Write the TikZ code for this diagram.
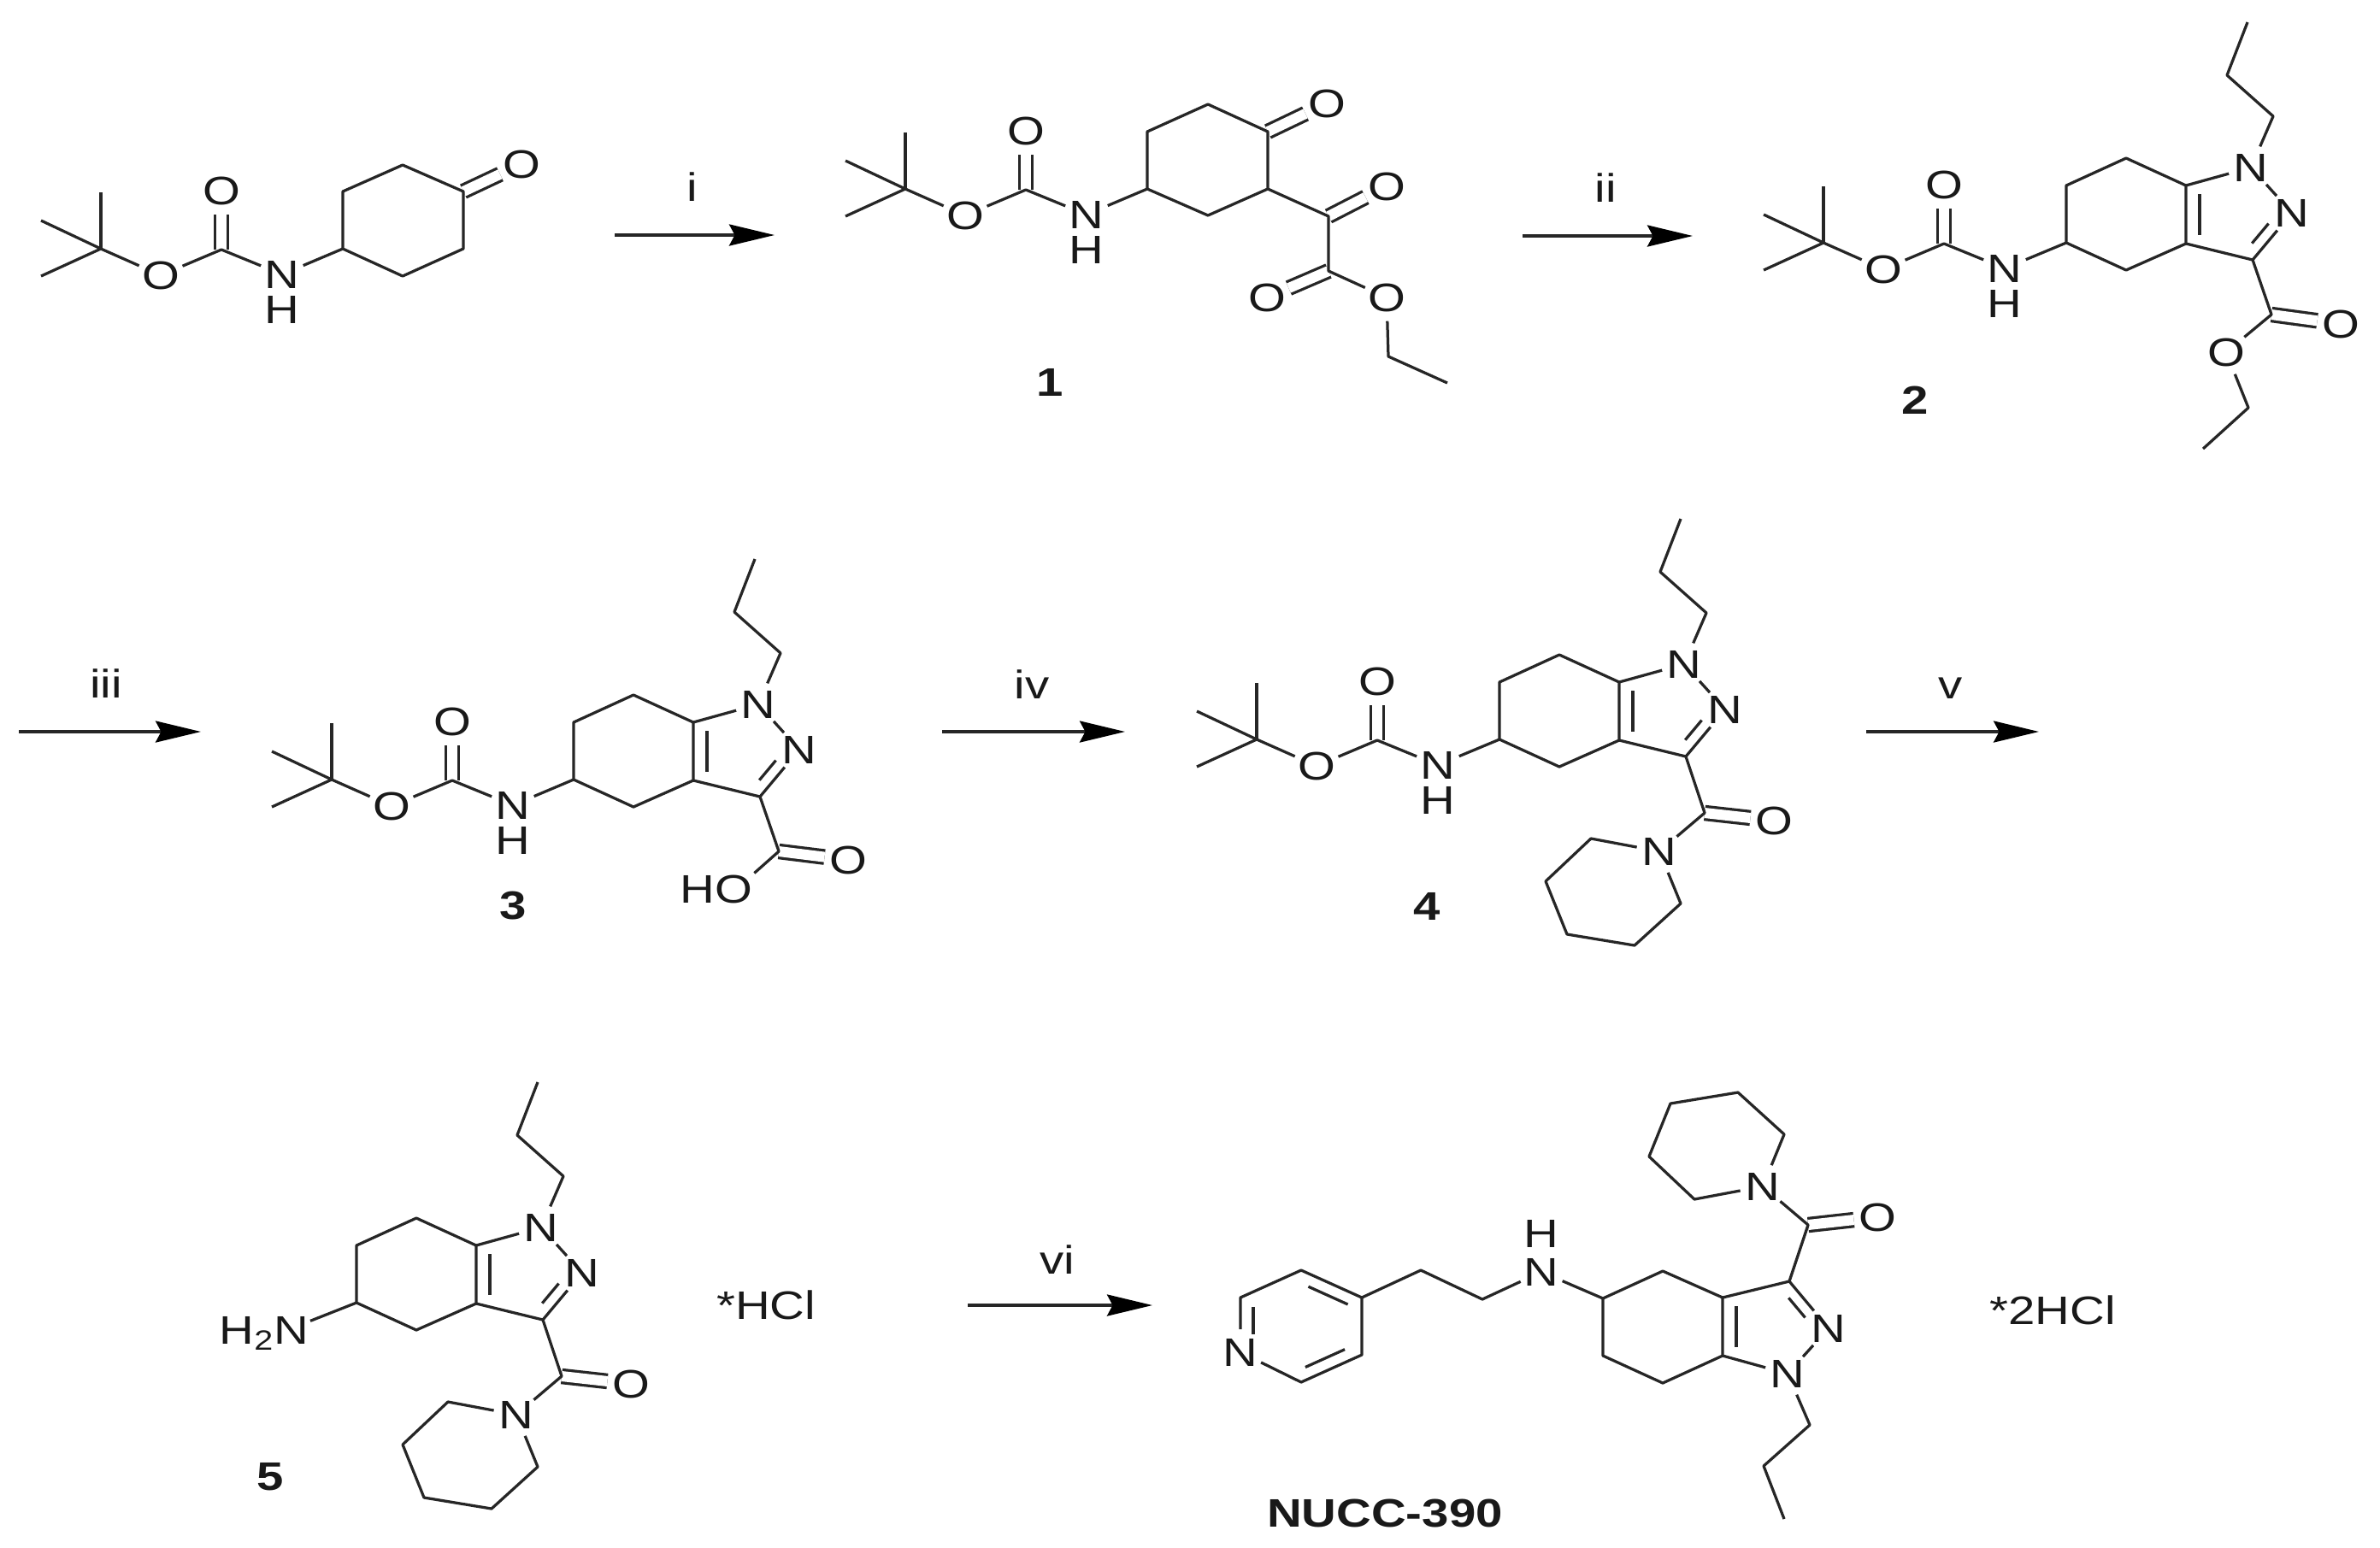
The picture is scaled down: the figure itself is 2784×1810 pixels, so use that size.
\documentclass[tikz,border=0pt]{standalone}
\usepackage{fontspec}
\setmainfont{Liberation Sans}[FakeStretch=1.21]
\usetikzlibrary{arrows.meta,calc}
\tikzset{
	bond/.style={line width=0.065cm,black!85,line join=round},
	dblbond/.style={bond,double,double distance=0.24cm},
	atom/.style={circle,inner sep=0pt,minimum size=1.06cm,text=black!90,font=\fontsize{26.5}{26.5}\selectfont},
	txt/.style={inner sep=1pt,text=black!90,font=\fontsize{26.5}{26.5}\selectfont},
	cmpd/.style={inner sep=1pt,text=black!90,font=\fontsize{26.5}{26.5}\selectfont\bfseries},
	rxn/.style={line width=0.07cm,black!85,-{Stealth[length=1.06cm,width=.5cm,inset=.13cm,black]}}
}
\def\innerbond(#1)(#2)(#3:#4:#5){\draw[bond] ($(#1)!#3!(#2)!{#5}!90:(#2)$) -- ($(#1)!#4!(#2)!{#5}!90:(#2)$);}
\def\bocamine(#1)(#2,#3){
	\begin{scope}[shift={(#2,#3)}]
		\coordinate (#1-tb) at (0,0);
		\coordinate (#1-m1) at (0,-66);
		\coordinate (#1-m2) at (-70,-33);
		\coordinate (#1-m3) at (-70,32);
		\coordinate (#1-co) at (141,1);
		\node[atom] (#1-oe) at (70,31) {O};
		\node[atom] (#1-oc) at (141,-68) {O};
		\node[atom] (#1-n) at (212,30) {N};
		\node[atom] (#1-h) at (212,71) {H};
	\end{scope}
	\draw[dblbond] (#1-co) -- (#1-oc);
	\draw[bond] (#1-m1) -- (#1-tb);
	\draw[bond] (#1-m2) -- (#1-tb) -- (#1-m3);
	\draw[bond] (#1-tb) -- (#1-oe) -- (#1-co) -- (#1-n);
}
\def\indazole(#1)(#2,#3)(#4){
	\begin{scope}[shift={(#2,#3)},yscale=#4]
		\coordinate (#1-c5) at (0,0);
		\coordinate (#1-c4) at (70,32);
		\coordinate (#1-c3a) at (140,1);
		\coordinate (#1-c7a) at (140,-67);
		\coordinate (#1-c7) at (70,-99);
		\coordinate (#1-c6) at (0,-67);
		\coordinate (#1-c3) at (218,20);
		\node[atom] (#1-n1) at (216,-88) {N};
		\node[atom] (#1-n2) at (264,-35) {N};
		\coordinate (#1-p1) at (242,-148);
		\coordinate (#1-p2) at (188,-196);
		\coordinate (#1-p3) at (212,-258);
	\end{scope}
	\draw[bond] (#1-c5) -- (#1-c4) -- (#1-c3a) -- (#1-c7a) -- (#1-c7) -- (#1-c6) -- cycle;
	\draw[bond] (#1-c7a) -- (#1-n1) -- (#1-n2) -- (#1-c3) -- (#1-c3a);
	\draw[bond] (#1-n1) -- (#1-p1) -- (#1-p2) -- (#1-p3);
	\innerbond(#1-c7a)(#1-c3a)(.15:.85:#4*0.32cm)
	\innerbond(#1-c3)(#1-n2)(.2:.62:#4*0.26cm)
}
\def\amide(#1)(#2,#3)(#4){
	\begin{scope}[shift={(#2,#3)},yscale=#4]
		\coordinate (#1-cam) at (22,66);
		\node[atom] (#1-oam) at (103,75) {O};
		\node[atom] (#1-nam) at (-31,111) {N};
		\coordinate (#1-r1) at (-111,96);
		\coordinate (#1-r2) at (-164,146);
		\coordinate (#1-r3) at (-139,208);
		\coordinate (#1-r4) at (-60,221);
		\coordinate (#1-r5) at (-6,172);
	\end{scope}
	\draw[dblbond] (#1-cam) -- (#1-oam);
	\draw[bond] (#1-c3) -- (#1-cam) -- (#1-nam);
	\draw[bond] (#1-nam) -- (#1-r1) -- (#1-r2) -- (#1-r3) -- (#1-r4) -- (#1-r5) -- (#1-nam);
}

\begin{document}
\begin{tikzpicture}[x=0.02cm,y=-0.02cm]
	%%%%% START %%%%%
	\useasboundingbox (0,0) rectangle (2784,1810);

	% starting ketone
	\bocamine(a)(118,291)
	\coordinate (a-r1) at (401,291);
	\coordinate (a-r2) at (471,323);
	\coordinate (a-r3) at (542,291);
	\coordinate (a-r4) at (542,224);
	\coordinate (a-r5) at (471,193);
	\coordinate (a-r6) at (401,224);
	\node[atom] (a-ok) at (610,192) {O};
	\draw[dblbond] (a-r4) -- (a-ok);
	\draw[bond] (a-n) -- (a-r1);
	\draw[bond] (a-r1) -- (a-r2) -- (a-r3) -- (a-r4) -- (a-r5) -- (a-r6) -- cycle;

	% arrows
	\coordinate (s1) at (719,275);
	\coordinate (e1) at (906,275);
	\coordinate (s2) at (1781,276);
	\coordinate (e2) at (1980,276);
	\coordinate (s3) at (22,856);
	\coordinate (e3) at (235,856);
	\coordinate (s4) at (1102,856);
	\coordinate (e4) at (1316,856);
	\coordinate (s5) at (2183,856);
	\coordinate (e5) at (2385,856);
	\coordinate (s6) at (1132,1527);
	\coordinate (e6) at (1348,1527);
	\foreach \i in {1,...,6}
		\draw[rxn] (s\i) -- (e\i);
	\node[txt] (step1) at (810,219) {i};
	\node[txt] (step2) at (1878,220) {ii};
	\node[txt] (step3) at (124,800) {iii};
	\node[txt] (step4) at (1207,801) {iv};
	\node[txt] (step5) at (2282,805) {v};
	\node[txt] (step6) at (1237,1474) {vi};

	% compound 1
	\bocamine(b)(1059,221)
	\coordinate (b-r1) at (1342,221);
	\coordinate (b-r2) at (1413,252);
	\coordinate (b-r3) at (1483,221);
	\coordinate (b-r4) at (1483,154);
	\coordinate (b-r5) at (1413,122);
	\coordinate (b-r6) at (1342,154);
	\coordinate (b-cx) at (1554,253);
	\coordinate (b-ce) at (1554,317);
	\coordinate (b-et1) at (1624,417);
	\coordinate (b-et2) at (1693,448);
	\node[atom] (b-ok) at (1552,121) {O};
	\node[atom] (b-ox) at (1622,218) {O};
	\node[atom] (b-oc) at (1482,348) {O};
	\node[atom] (b-oe2) at (1622,348) {O};
	\draw[dblbond] (b-r4) -- (b-ok);
	\draw[dblbond] (b-cx) -- (b-ox);
	\draw[dblbond] (b-ce) -- (b-oc);
	\draw[bond] (b-n) -- (b-r1);
	\draw[bond] (b-r1) -- (b-r2) -- (b-r3) -- (b-r4) -- (b-r5) -- (b-r6) -- cycle;
	\draw[bond] (b-r3) -- (b-cx) -- (b-ce) -- (b-oe2) -- (b-et1) -- (b-et2);
	\node[cmpd] (lab1) at (1228,447) {1};

	% compound 2
	\bocamine(c)(2133,284)
	\indazole(c)(2417,284)(1)
	\coordinate (c-cx) at (2657,368);
	\coordinate (c-et1) at (2630,477);
	\coordinate (c-et2) at (2577,525);
	\node[atom] (c-ox) at (2738,379) {O};
	\node[atom] (c-oe2) at (2604,412) {O};
	\draw[dblbond] (c-cx) -- (c-ox);
	\draw[bond] (c-n) -- (c-c5);
	\draw[bond] (c-c3) -- (c-cx) -- (c-oe2) -- (c-et1) -- (c-et2);
	\node[cmpd] (lab2) at (2240,468) {2};

	% compound 3
	\bocamine(d)(388,912)
	\indazole(d)(671,912)(1)
	\coordinate (d-cx) at (911,996);
	\node[atom] (d-ox) at (992,1006) {O};
	\node[txt] (d-ho) at (838,1040) {HO};
	\draw[dblbond] (d-cx) -- (d-ox);
	\draw[bond] (d-n) -- (d-c5);
	\draw[bond] (d-c3) -- (d-cx) -- (d-ho.north east);
	\node[cmpd] (lab3) at (600,1059) {3};

	% compound 4
	\bocamine(e)(1470,865)
	\indazole(e)(1754,865)(1)
	\amide(e)(1972,885)(1)
	\draw[bond] (e-n) -- (e-c5);
	\node[cmpd] (lab4) at (1669,1060) {4};

	% compound 5
	\indazole(g)(417,1524)(1)
	\amide(g)(635,1544)(1)
	\node[txt,anchor=base east] (g-nh) at (363,1572) {H\textsubscript{2}N};
	\draw[bond] (g-c5) -- (g-nh.15);
	\node[txt] (salt1) at (896,1527) {*HCl};
	\node[cmpd] (lab5) at (316,1728) {5};

	% final product
	\indazole(f)(1875,1519)(-1)
	\amide(f)(2093,1499)(-1)
	\node[atom] (f-pyn) at (1451,1582) {N};
	\coordinate (f-py2) at (1451,1518);
	\coordinate (f-py3) at (1522,1486);
	\coordinate (f-py4) at (1593,1518);
	\coordinate (f-py5) at (1593,1585);
	\coordinate (f-py6) at (1522,1617);
	\coordinate (f-ch1) at (1662,1486);
	\coordinate (f-ch2) at (1734,1520);
	\node[atom] (f-nh) at (1803,1488) {N};
	\node[atom] (f-h) at (1803,1443) {H};
	\draw[bond] (f-pyn) -- (f-py2) -- (f-py3) -- (f-py4) -- (f-py5) -- (f-py6) -- (f-pyn);
	\innerbond(f-py2)(f-pyn)(.17:.67:0.3cm)
	\innerbond(f-py4)(f-py3)(.15:.8:0.28cm)
	\innerbond(f-py6)(f-py5)(.15:.8:0.28cm)
	\draw[bond] (f-py4) -- (f-ch1) -- (f-ch2) -- (f-nh) -- (f-c5);
	\node[txt] (salt2) at (2401,1533) {*2HCl};
	\node[cmpd] (labf) at (1620,1770) {NUCC-390};
	%%%%% END %%%%%
\end{tikzpicture}
\end{document}
